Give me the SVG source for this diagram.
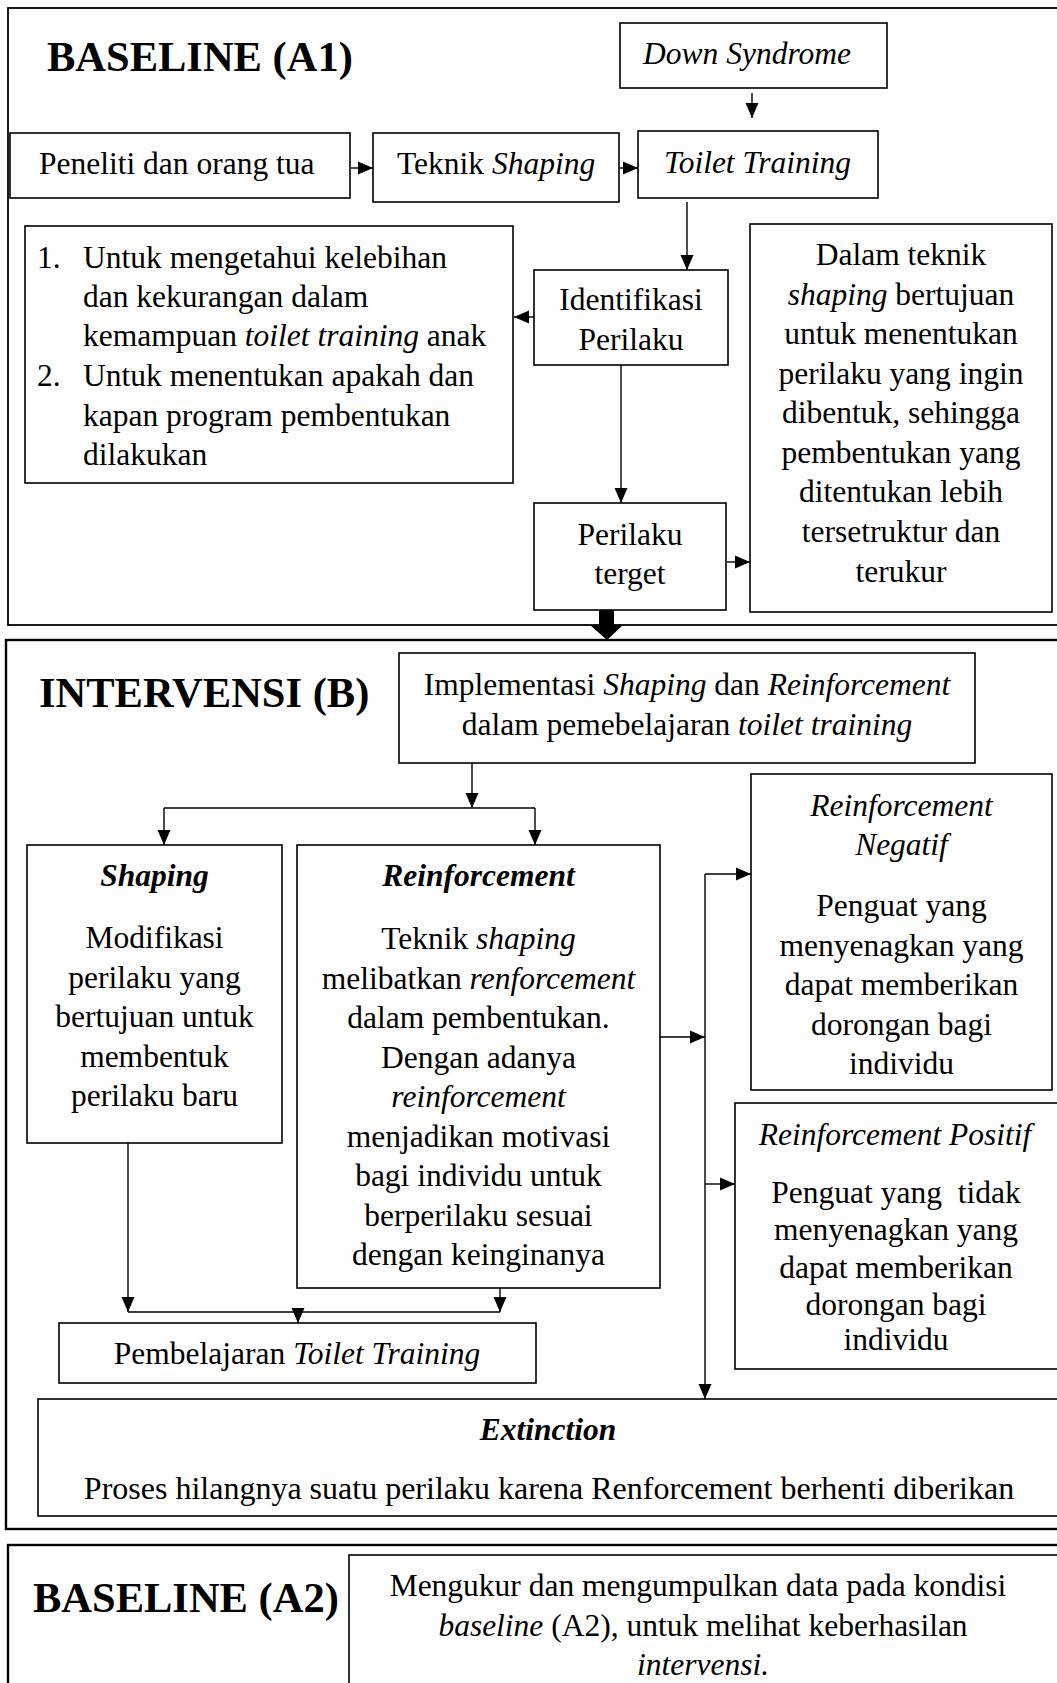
<svg xmlns="http://www.w3.org/2000/svg" width="1057" height="1683" viewBox="0 0 1057 1683">
<style>
.box{fill:#fff;stroke:#000;stroke-width:1.6}
.outer{fill:none;stroke:#000;stroke-width:2.4}
.outer1{fill:none;stroke:#000;stroke-width:1.8}
.t{font-family:'Liberation Serif','Times New Roman',serif;font-size:31.5px;fill:#000}
.c{text-anchor:middle}
.title{font-size:42.5px;font-weight:bold}
.i{font-style:italic}
.bi{font-weight:bold;font-style:italic}
.ln{stroke:#000;stroke-width:1.4;fill:none}
.ar{stroke:#000;stroke-width:1.4;fill:none;marker-end:url(#ah)}
</style>
<defs>
<marker id="ah" markerUnits="userSpaceOnUse" markerWidth="15" markerHeight="14" refX="15" refY="7" orient="auto"><path d="M0,0.5 L15,7 L0,13.5 z" fill="#000"/></marker>
</defs>
<rect width="1057" height="1683" fill="#fff"/>

<!-- Section frames -->
<g id="section-a1">
<rect class="outer1" x="8" y="8" width="1075" height="617"/>
<text class="t title" x="47" y="71">BASELINE (A1)</text>
</g>
<g id="section-b">
<rect class="outer" x="6" y="640" width="1078" height="889"/>
<text class="t title" x="39" y="707">INTERVENSI (B)</text>
</g>
<g id="section-a2">
<rect class="outer" x="8" y="1545" width="1076" height="200"/>
<text class="t title" x="33" y="1612">BASELINE (A2)</text>
</g>

<!-- Connectors -->
<g id="connectors">
<line class="ar" x1="752" y1="93" x2="752" y2="118"/>
<line class="ar" x1="351" y1="168" x2="373" y2="168"/>
<line class="ar" x1="620" y1="168" x2="638" y2="168"/>
<line class="ar" x1="687" y1="202" x2="687" y2="270"/>
<line class="ar" x1="534" y1="317" x2="514" y2="317"/>
<line class="ar" x1="621" y1="365" x2="621" y2="503"/>
<line class="ar" x1="727" y1="562" x2="750" y2="562"/>
<path d="M599,610 L614,610 L614,625 L623,625 L607,640 L590,625 L599,625 z" fill="#000"/>

<line class="ar" x1="472" y1="763" x2="472" y2="808"/>
<line class="ln" x1="164" y1="808" x2="535" y2="808"/>
<line class="ar" x1="164" y1="808" x2="164" y2="845"/>
<line class="ar" x1="535" y1="808" x2="535" y2="845"/>

<line class="ar" x1="128" y1="1143" x2="128" y2="1312"/>
<line class="ar" x1="500" y1="1288" x2="500" y2="1312"/>
<line class="ln" x1="128" y1="1312" x2="500" y2="1312"/>
<line class="ar" x1="298" y1="1312" x2="298" y2="1323"/>

<line class="ar" x1="660" y1="1037" x2="705" y2="1037"/>
<line class="ar" x1="705" y1="874" x2="705" y2="1399"/>
<line class="ar" x1="705" y1="874" x2="751" y2="874"/>
<line class="ar" x1="705" y1="1184" x2="735" y2="1184"/>
</g>

<!-- A1 nodes -->
<g id="down-syndrome">
<rect class="box" x="620" y="23" width="267" height="65"/>
<text class="t i c" x="747" y="64">Down Syndrome</text>
</g>
<g id="peneliti">
<rect class="box" x="10" y="133" width="340" height="65"/>
<text class="t" x="39" y="174">Peneliti dan orang tua</text>
</g>
<g id="teknik-shaping">
<rect class="box" x="373" y="133" width="246" height="69"/>
<text class="t" x="397" y="174">Teknik <tspan class="i">Shaping</tspan></text>
</g>
<g id="toilet-training">
<rect class="box" x="638" y="131" width="240" height="67"/>
<text class="t i" x="664" y="173">Toilet Training</text>
</g>
<g id="identifikasi">
<rect class="box" x="534" y="270" width="194" height="95"/>
<text class="t c" x="631" y="310">Identifikasi</text>
<text class="t c" x="631" y="350">Perilaku</text>
</g>
<g id="tujuan-list">
<rect class="box" x="25" y="226" width="488" height="257"/>
<text class="t" x="37" y="268">1.</text>
<text class="t" x="83" y="268">Untuk mengetahui kelebihan</text>
<text class="t" x="83" y="307">dan kekurangan dalam</text>
<text class="t" x="83" y="346">kemampuan <tspan class="i">toilet training</tspan> anak</text>
<text class="t" x="37" y="386">2.</text>
<text class="t" x="83" y="386">Untuk menentukan apakah dan</text>
<text class="t" x="83" y="426">kapan program pembentukan</text>
<text class="t" x="83" y="465">dilakukan</text>
</g>
<g id="perilaku-target">
<rect class="box" x="534" y="503" width="192" height="107"/>
<text class="t c" x="630" y="545">Perilaku</text>
<text class="t c" x="630" y="584">terget</text>
</g>
<g id="dalam-teknik">
<rect class="box" x="750" y="224" width="302" height="388"/>
<text class="t c" x="901" y="265">Dalam teknik</text>
<text class="t c" x="901" y="305"><tspan class="i">shaping</tspan> bertujuan</text>
<text class="t c" x="901" y="344">untuk menentukan</text>
<text class="t c" x="901" y="384">perilaku yang ingin</text>
<text class="t c" x="901" y="423">dibentuk, sehingga</text>
<text class="t c" x="901" y="463">pembentukan yang</text>
<text class="t c" x="901" y="502">ditentukan lebih</text>
<text class="t c" x="901" y="542">tersetruktur dan</text>
<text class="t c" x="901" y="582">terukur</text>
</g>

<!-- B nodes -->
<g id="implementasi">
<rect class="box" x="399" y="653" width="576" height="110"/>
<text class="t c" x="687" y="695">Implementasi <tspan class="i">Shaping</tspan> dan <tspan class="i">Reinforcement</tspan></text>
<text class="t c" x="687" y="735">dalam pemebelajaran <tspan class="i">toilet training</tspan></text>
</g>
<g id="shaping">
<rect class="box" x="27" y="845" width="255" height="298"/>
<text class="t c bi" x="154.5" y="886">Shaping</text>
<text class="t c" x="154.5" y="948">Modifikasi</text>
<text class="t c" x="154.5" y="988">perilaku yang</text>
<text class="t c" x="154.5" y="1027">bertujuan untuk</text>
<text class="t c" x="154.5" y="1067">membentuk</text>
<text class="t c" x="154.5" y="1106">perilaku baru</text>
</g>
<g id="reinforcement">
<rect class="box" x="297" y="845" width="363" height="443"/>
<text class="t c bi" x="478.5" y="886">Reinforcement</text>
<text class="t c" x="478.5" y="949">Teknik <tspan class="i">shaping</tspan></text>
<text class="t c" x="478.5" y="989">melibatkan <tspan class="i">renforcement</tspan></text>
<text class="t c" x="478.5" y="1028">dalam pembentukan.</text>
<text class="t c" x="478.5" y="1068">Dengan adanya</text>
<text class="t c i" x="478.5" y="1107">reinforcement</text>
<text class="t c" x="478.5" y="1147">menjadikan motivasi</text>
<text class="t c" x="478.5" y="1186">bagi individu untuk</text>
<text class="t c" x="478.5" y="1226">berperilaku sesuai</text>
<text class="t c" x="478.5" y="1265">dengan keinginanya</text>
</g>
<g id="reinforcement-negatif">
<rect class="box" x="751" y="774" width="301" height="316"/>
<text class="t c i" x="901.5" y="816">Reinforcement</text>
<text class="t c i" x="901.5" y="855">Negatif</text>
<text class="t c" x="901.5" y="916">Penguat yang</text>
<text class="t c" x="901.5" y="956">menyenagkan yang</text>
<text class="t c" x="901.5" y="995">dapat memberikan</text>
<text class="t c" x="901.5" y="1035">dorongan bagi</text>
<text class="t c" x="901.5" y="1074">individu</text>
</g>
<g id="reinforcement-positif">
<rect class="box" x="735" y="1103" width="325" height="266"/>
<text class="t c i" x="895" y="1145">Reinforcement Positif</text>
<text class="t c" x="896" y="1203" xml:space="preserve">Penguat yang  tidak</text>
<text class="t c" x="896" y="1240">menyenagkan yang</text>
<text class="t c" x="896" y="1278">dapat memberikan</text>
<text class="t c" x="896" y="1315">dorongan bagi</text>
<text class="t c" x="896" y="1350">individu</text>
</g>
<g id="pembelajaran">
<rect class="box" x="59" y="1323" width="477" height="60"/>
<text class="t c" x="297" y="1364">Pembelajaran <tspan class="i">Toilet Training</tspan></text>
</g>
<g id="extinction">
<rect class="box" x="38" y="1399" width="1030" height="117"/>
<text class="t c bi" x="548" y="1440">Extinction</text>
<text class="t c" x="549" y="1499" style="font-size:32px">Proses hilangnya suatu perilaku karena Renforcement berhenti diberikan</text>
</g>

<!-- A2 node -->
<g id="pengukuran">
<rect class="box" x="349" y="1555" width="720" height="200"/>
<text class="t c" x="698" y="1596">Mengukur dan mengumpulkan data pada kondisi</text>
<text class="t c" x="703" y="1636"><tspan class="i">baseline</tspan> (A2), untuk melihat keberhasilan</text>
<text class="t c i" x="703" y="1675">intervensi.</text>
</g>
</svg>
